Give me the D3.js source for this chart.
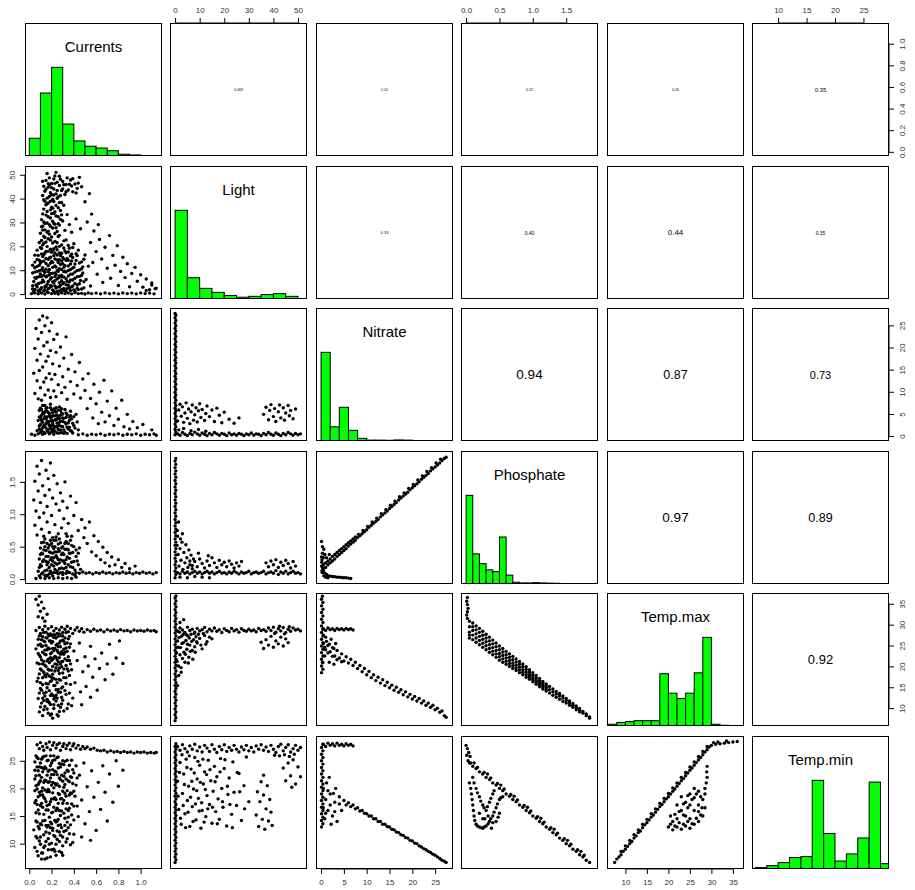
<!DOCTYPE html>
<html>
<head>
<meta charset="utf-8">
<script src="https://cdn.jsdelivr.net/npm/d3@7"></script>
<style>
  body { margin: 0; background: #fff; }
  svg { display: block; }
</style>
</head>
<body>
<svg id="chart" width="915" height="890"></svg>
<script>
// ---- Variables and their observed ranges ----
const variables = ["Currents", "Light", "Nitrate", "Phosphate", "Temp.max", "Temp.min"];
const dataRanges = [[0.007, 1.146], [0, 51.6], [0, 27.8], [0, 1.9], [6.9, 36.4], [6.3, 28.6]];
const tickValues = [
  [0, 0.2, 0.4, 0.6, 0.8, 1.0],
  [0, 10, 20, 30, 40, 50],
  [0, 5, 10, 15, 20, 25],
  [0, 0.5, 1.0, 1.5],
  [10, 15, 20, 25, 30, 35],
  [10, 15, 20, 25]
];
const tickFormats = [".1f", "d", "d", ".1f", "d", "d"];

// ---- Histograms (bar heights relative to the tallest bar) ----
const histStart = [0, 0, 0, 0, 6, 6];
const histWidth = [0.1, 5, 2, 0.1, 2, 2];
const currentsHist = [0.20, 0.71, 1.00, 0.36, 0.17, 0.11, 0.09, 0.06, 0.02, 0.012, 0.006, 0.003];
const lightHist = [1.00, 0.24, 0.12, 0.075, 0.04, 0.02, 0.03, 0.05, 0.06, 0.03, 0.005];
const nitrateHist = [1.00, 0.16, 0.38, 0.12, 0.03, 0.01, 0.01, 0.008, 0.012, 0.01, 0.005, 0.003, 0.002, 0.002];
const phosphateHist = [1.00, 0.34, 0.23, 0.16, 0.14, 0.53, 0.10, 0.02, 0.012, 0.012, 0.015, 0.012, 0.01, 0.008, 0.006, 0.005, 0.004, 0.003, 0.002];
const tempMaxHist = [0.02, 0.04, 0.05, 0.06, 0.06, 0.06, 0.59, 0.37, 0.31, 0.37, 0.60, 1.00, 0.02, 0.008, 0.004, 0.002];
const tempMinHist = [0.016, 0.038, 0.072, 0.13, 0.14, 1.00, 0.40, 0.09, 0.17, 0.35, 0.98, 0.06];
const histograms = [currentsHist, lightHist, nitrateHist, phosphateHist, tempMaxHist, tempMinHist];

// ---- Correlations shown above the diagonal: [row, col, text] ----
const correlations = [
  [0, 1, "0.068"], [0, 2, "0.20"], [0, 3, "0.22"], [0, 4, "0.26"], [0, 5, "0.35"],
  [1, 2, "0.33"], [1, 3, "0.40"], [1, 4, "0.44"], [1, 5, "0.35"],
  [2, 3, "0.94"], [2, 4, "0.87"], [2, 5, "0.73"],
  [3, 4, "0.97"], [3, 5, "0.89"],
  [4, 5, "0.92"]
];
const corrFontPx = [3.5, 3.5, 3.5, 3.5, 6, 4, 5, 8, 5, 13.5, 12.5, 11, 13.5, 12.5, 13];

// ---- Scatter observations [x, y] for each lower panel ----
const currentsLight = [
[0.02,0.2],[0.05,0.5],[0.08,0.1],[0.11,0.4],[0.14,0],[0.17,0.6],[0.2,0.2],[0.23,0.3],[0.26,0],[0.29,0.5],[0.32,0.2],[0.35,0.4],[0.38,0.1],[0.41,0.6],[0.44,0.2],[0.47,0.3],[0.5,0],[0.53,0.5],[0.56,0.2],[0.6,0.4],[0.64,0.1],[0.68,0.5],[0.72,0.2],[0.76,0.4],[0.8,0.1],[0.84,0.5],[0.88,0.2],[0.92,0.4],[0.96,0.1],[1.0,0.5],[1.04,0.2],[1.08,0.4],[1.12,0.1],[1.14,2.5],[1.1,3.8],[1.05,1.5],
[0.03,2.1],[0.04,5.3],[0.05,9.2],[0.05,13.4],[0.06,3.8],[0.07,7.1],[0.07,11.6],[0.08,1.4],[0.08,16.2],[0.09,4.6],[0.09,9.8],[0.1,13],[0.1,19.5],[0.11,2.7],[0.11,7.4],[0.12,11.1],[0.12,15.7],[0.13,5.2],[0.13,21.3],[0.14,1.8],[0.14,9.1],[0.15,12.8],[0.15,17.9],[0.16,4.1],[0.16,7.6],[0.17,14.6],[0.17,23.2],[0.18,2.5],[0.18,10.3],[0.19,6.2],[0.19,18.8],[0.2,13.7],[0.2,3.3],[0.21,8.7],[0.21,21.4],[0.22,16.1],[0.22,1.2],[0.23,11.8],[0.23,5.6],[0.24,19.7],[0.24,8.2],[0.25,2.9],[0.25,14.3],[0.26,24.1],[0.26,6.8],[0.27,10.6],[0.27,17.2],[0.28,3.7],[0.28,12.4],[0.29,7.9],[0.29,20.6],[0.3,1.6],[0.3,15.3],[0.31,9.4],[0.31,4.8],[0.32,18.1],[0.32,12],[0.33,6.4],[0.33,22.7],[0.34,2.2],[0.34,14.9],[0.35,9.9],[0.36,5.1],[0.36,19.2],[0.37,12.6],[0.38,3],[0.38,16.7],[0.39,8.4],[0.4,21.1],[0.4,11.2],[0.41,4.4],[0.42,14.1],[0.43,7.3],[0.44,18.4],[0.44,1.9],[0.45,10.1],[0.46,5.7],[0.47,13.5],[0.48,8.8],[0.49,2.6],[0.5,16.4],[0.51,6.1],[0.53,11.7],[0.55,3.4],
[0.04,1],[0.06,6.5],[0.07,14.5],[0.08,4.3],[0.09,12.1],[0.1,2],[0.1,8.4],[0.11,16.8],[0.12,5.9],[0.12,20.6],[0.13,9.7],[0.13,13.8],[0.14,3.1],[0.14,17.2],[0.15,7.2],[0.15,10.4],[0.16,1.1],[0.16,19.9],[0.17,5.3],[0.17,11.9],[0.18,8],[0.18,15.1],[0.19,3.6],[0.19,12.9],[0.2,6.9],[0.2,17.5],[0.21,1.7],[0.21,11.2],[0.22,4.6],[0.22,19],[0.23,8.9],[0.23,14.7],[0.24,2.5],[0.24,11.3],[0.25,6.3],[0.25,18.6],[0.26,9.5],[0.26,13.2],[0.27,1.3],[0.27,4.8],[0.28,7.1],[0.28,16.1],[0.29,10.3],[0.3,4.3],[0.3,12.7],[0.31,7.1],[0.31,19.3],[0.32,1.4],[0.32,9.6],[0.33,14.2],[0.34,5.4],[0.35,11.8],[0.35,17.6],[0.36,2.6],[0.37,8.3],[0.38,13.9],[0.39,5.9],[0.4,1.7],[0.41,9.2],[0.42,16.9],[0.43,3.8],[0.45,7.4],[0.47,2.1],[0.48,11.4],
[0.03,3.5],[0.03,8.8],[0.03,12.1],[0.05,1.9],[0.05,6.9],[0.05,11],[0.05,16.3],[0.07,3],[0.07,9.5],[0.07,18.4],[0.09,1.2],[0.09,7.3],[0.09,14.2],[0.09,21.6],[0.11,4.9],[0.11,10.1],[0.11,13.6],[0.11,19.1],[0.13,1.4],[0.13,7.9],[0.13,16.5],[0.13,24.2],[0.15,3.3],[0.15,14.9],[0.15,21.8],[0.17,9.4],[0.17,17.9],[0.17,2.3],[0.19,8.6],[0.19,15.4],[0.19,22.6],[0.21,5.1],[0.21,13.3],[0.21,18.4],[0.23,3.4],[0.23,7.3],[0.23,17.2],[0.23,22.1],[0.25,1.1],[0.25,9.8],[0.25,16.4],[0.25,21.5],[0.27,3.1],[0.27,7.6],[0.27,14.4],[0.27,20],[0.29,1.9],[0.29,5.6],[0.29,13.9],[0.29,17.1],[0.31,2.4],[0.31,11.2],[0.31,14.7],[0.31,22.3],[0.33,1.1],[0.33,3.9],[0.33,9.2],[0.33,17.3],[0.35,3.7],[0.35,7.6],[0.35,14.2],[0.35,20.4],[0.37,1.5],[0.37,5.9],[0.37,10.3],[0.37,16],[0.39,3.4],[0.39,10.9],[0.39,15.3],[0.39,19.5],[0.41,1.2],[0.41,6.6],[0.41,12.6],[0.43,2.4],[0.43,9.9],[0.43,16.1],[0.45,4.3],[0.45,13],[0.47,7.9],[0.47,10.6],[0.49,5.2],[0.49,14.6],
[0.1,25.5],[0.11,31.2],[0.12,28.4],[0.13,35.6],[0.14,26.9],[0.15,33.1],[0.16,29.8],[0.17,38.2],[0.18,25.1],[0.19,31.9],[0.2,36.4],[0.21,27.7],[0.22,33.8],[0.23,29.3],[0.24,37.1],[0.25,26.2],[0.26,32.4],[0.27,28.9],[0.28,35],[0.3,30.6],[0.32,26.7],[0.34,33.3],[0.36,29.1],[0.38,25.9],[0.42,31.5],[0.46,27.4],
[0.11,22.5],[0.12,26.8],[0.13,30.2],[0.14,23.7],[0.15,37.4],[0.16,34.6],[0.17,26.3],[0.18,29.1],[0.19,35.3],[0.2,23.9],[0.21,30.5],[0.22,38.8],[0.23,25.4],[0.24,32.7],[0.25,40.1],[0.26,36.2],[0.27,24.6],[0.28,31.3],[0.29,38.4],[0.2,41.6],[0.22,48.2],[0.18,45.7],[0.14,38.9],[0.12,47.3],[0.3,44.1],[0.34,48.7],[0.38,45.3],[0.42,42.4],
[0.11,28.2],[0.12,33.6],[0.13,39.5],[0.14,29.6],[0.15,43.9],[0.16,25.9],[0.16,37.8],[0.17,32.4],[0.17,46.2],[0.18,40.9],[0.19,28.3],[0.19,38.9],[0.2,33.7],[0.2,44.6],[0.21,36],[0.22,29.6],[0.22,41.5],[0.23,34.5],[0.23,46.4],[0.24,27.8],[0.25,43.4],[0.26,29.5],[0.27,38.3],[0.27,49.4],[0.28,41.3],[0.29,33.2],[0.31,45.8],[0.31,37.2],[0.33,42.9],[0.36,46],[0.39,48.3],[0.44,46.5],
[0.12,41.3],[0.13,45.2],[0.14,43.1],[0.15,47.6],[0.16,40.2],[0.17,44.8],[0.18,48.7],[0.19,42.5],[0.2,46.3],[0.21,39.6],[0.22,44],[0.23,49.5],[0.24,42],[0.25,46.9],[0.26,40.8],[0.27,45.5],[0.28,48.1],[0.29,43.4],[0.3,47.2],[0.32,41.7],[0.33,45.9],[0.35,43.6],[0.37,47.8],[0.39,42.9],[0.41,46.1],[0.43,44.3],[0.45,48.9],[0.47,45],[0.16,50.5],[0.24,51],
[0.55,21.6],[0.57,13.2],[0.58,26.4],[0.6,17.8],[0.61,8.3],[0.63,22.9],[0.65,14.7],[0.66,4.9],[0.68,19.6],[0.7,10.8],[0.72,24.5],[0.73,6.6],[0.75,16.2],[0.77,12.1],[0.79,20.3],[0.8,3.6],[0.82,9.5],[0.84,15.4],[0.86,6.9],[0.88,12.7],[0.9,3.1],[0.92,8.6],[0.95,11.2],[0.97,5.4],[1.0,8.1],[1.02,2.9],[1.05,6.3],[1.08,1.8],[1.1,4.7],[1.13,2.2],[0.52,30.2],[0.56,33.5],[0.62,29.1],[0.5,38.7],[0.54,42.1]
];

const currentsNitrate = [
[0.07,1.2],[0.08,3.5],[0.09,5.8],[0.1,0.8],[0.1,2.6],[0.11,4.7],[0.12,6.9],[0.12,1.9],[0.13,3.9],[0.14,5.5],[0.14,0.6],[0.15,2.8],[0.16,4.3],[0.16,6.4],[0.17,1.5],[0.18,3.3],[0.18,5.1],[0.19,7.2],[0.2,0.9],[0.2,2.4],[0.21,4.6],[0.22,6.1],[0.22,1.7],[0.23,3.7],[0.24,5.4],[0.25,0.7],[0.25,2.9],[0.26,4.2],[0.27,6.6],[0.28,1.4],[0.28,3.4],[0.29,5.2],[0.3,2.1],[0.31,4],[0.32,0.9],[0.32,6],[0.33,2.7],[0.34,4.8],[0.35,1.6],[0.36,3.5],[0.37,5.6],[0.38,1.1],[0.39,2.9],[0.4,4.4],[0.41,1.8],[0.43,3.2],
[0.08,0.5],[0.09,2.3],[0.1,4.1],[0.11,1.3],[0.11,6],[0.12,3.1],[0.13,0.9],[0.13,5.1],[0.14,2.2],[0.15,4],[0.15,6.2],[0.16,1.2],[0.17,2.9],[0.17,5.3],[0.18,0.5],[0.19,1.9],[0.19,4.2],[0.2,3.5],[0.2,5.9],[0.21,1.1],[0.21,2.8],[0.22,0.4],[0.23,5.7],[0.24,2.1],[0.24,3.6],[0.25,4.7],[0.26,1.5],[0.27,2.4],[0.27,4],[0.28,5.8],[0.29,0.8],[0.3,3.3],[0.3,5],[0.31,1.4],[0.33,4.2],[0.34,0.6],[0.35,3],[0.36,2],[0.37,4.6],[0.39,0.7],[0.4,2.4],[0.42,4.9],[0.44,1.4],
[0.09,1.6],[0.09,4.3],[0.1,6.3],[0.11,3.5],[0.12,0.4],[0.12,5.3],[0.13,2.4],[0.14,4.4],[0.14,6.9],[0.15,1.8],[0.16,3.4],[0.16,5.6],[0.17,0.9],[0.18,2.4],[0.18,4.6],[0.19,6.4],[0.2,1.5],[0.2,4.3],[0.21,3.3],[0.21,5.3],[0.22,2.3],[0.23,1.1],[0.23,4.6],[0.24,6.4],[0.25,2.1],[0.25,3.9],[0.26,5.9],[0.27,0.7],[0.27,3.1],[0.28,4.7],[0.29,2.2],[0.29,6.2],[0.3,4.1],[0.31,0.6],[0.32,3.1],[0.33,5.2],[0.34,2],[0.36,4.3],[0.37,1.2],[0.38,3.9],
[0.02,0.4],[0.05,0.2],[0.44,0.3],[0.48,0.5],[0.52,0.2],[0.56,0.4],[0.6,0.3],[0.64,0.5],[0.68,0.2],[0.72,0.4],[0.76,0.3],[0.8,0.5],[0.84,0.2],[0.88,0.4],[0.92,0.3],[0.96,0.5],[1.0,0.2],[1.04,0.4],[1.08,0.3],[1.12,0.5],[1.14,0.2],
[0.04,14.2],[0.05,9.6],[0.05,19.8],[0.06,24.3],[0.07,12.5],[0.07,17.1],[0.08,8.4],[0.08,21.9],[0.09,26.2],[0.09,14.8],[0.1,10.9],[0.1,18.5],[0.11,23.4],[0.11,8.1],[0.12,15.6],[0.12,27.1],[0.13,12.2],[0.13,20.4],[0.14,9.3],[0.14,24.9],[0.15,16.9],[0.15,13.1],[0.16,21.2],[0.16,26.7],[0.17,10.4],[0.17,18],[0.18,14.1],[0.18,23.7],[0.19,8.7],[0.19,19.3],[0.2,12.8],[0.2,25.6],[0.21,16.3],[0.22,10.2],[0.22,21.8],[0.23,13.9],[0.24,18.9],[0.24,8.9],[0.25,23],[0.26,11.6],[0.27,15.8],[0.28,20.1],[0.29,9.8],[0.3,13.4],[0.31,17.6],[0.32,11],[0.33,22.4],[0.34,8.3],[0.35,15.1],[0.37,12.3],[0.38,18.4],[0.4,9.5],[0.41,14.5],[0.43,11.4],[0.45,16.6],[0.46,8.6],[0.48,12.9],
[0.5,10.3],[0.52,6.2],[0.53,14.1],[0.55,8.5],[0.57,4.1],[0.58,11.7],[0.6,7.3],[0.62,2.8],[0.63,9.9],[0.65,5.4],[0.67,12.6],[0.68,3.2],[0.7,7.9],[0.72,4.6],[0.74,10.2],[0.76,2.4],[0.78,6.3],[0.8,3.8],[0.83,8.1],[0.85,2.1],[0.88,4.9],[0.9,1.6],[0.93,3.3],[0.97,1.9],[1.02,2.6],[1.1,1.4]
];

const currentsPhosphate = [
[0.3,0.1],[0.33,0.09],[0.36,0.1],[0.39,0.08],[0.42,0.1],[0.45,0.09],[0.48,0.11],[0.51,0.09],[0.54,0.1],[0.57,0.08],[0.6,0.1],[0.63,0.09],[0.66,0.11],[0.69,0.09],[0.72,0.1],[0.75,0.08],[0.78,0.1],[0.81,0.09],[0.84,0.11],[0.87,0.09],[0.9,0.1],[0.93,0.08],[0.96,0.1],[0.99,0.09],[1.02,0.11],[1.05,0.09],[1.08,0.1],[1.11,0.08],[1.14,0.1],
[0.06,0.01],[0.1,0.02],[0.14,0.01],[0.18,0.02],[0.22,0.01],[0.26,0.02],[0.3,0.01],[0.34,0.02],[0.38,0.01],[0.42,0.03],
[0.08,0.12],[0.09,0.31],[0.1,0.48],[0.11,0.2],[0.12,0.39],[0.13,0.57],[0.14,0.13],[0.15,0.27],[0.15,0.44],[0.16,0.06],[0.17,0.35],[0.18,0.52],[0.18,0.18],[0.19,0.41],[0.2,0.09],[0.21,0.28],[0.22,0.47],[0.22,0.6],[0.23,0.15],[0.24,0.36],[0.25,0.23],[0.26,0.54],[0.26,0.08],[0.27,0.43],[0.28,0.3],[0.29,0.17],[0.3,0.5],[0.31,0.38],[0.32,0.24],[0.33,0.58],[0.34,0.12],[0.35,0.45],[0.36,0.32],[0.37,0.19],[0.38,0.52],[0.39,0.41],[0.4,0.27],[0.41,0.14],[0.42,0.35],[0.44,0.22],[0.45,0.48],
[0.09,0.05],[0.1,0.22],[0.11,0.4],[0.12,0.1],[0.13,0.3],[0.14,0.5],[0.15,0.04],[0.16,0.22],[0.17,0.48],[0.18,0.08],[0.19,0.3],[0.2,0.55],[0.21,0.05],[0.21,0.4],[0.22,0.2],[0.23,0.5],[0.24,0.1],[0.25,0.42],[0.26,0.3],[0.27,0.16],[0.28,0.56],[0.29,0.38],[0.3,0.07],[0.31,0.28],[0.32,0.46],[0.33,0.18],[0.34,0.34],[0.35,0.55],[0.36,0.1],[0.37,0.4],[0.38,0.26],[0.4,0.5],[0.41,0.06],[0.43,0.28],[0.44,0.4],[0.46,0.15],[0.14,0.62],[0.24,0.65],[0.34,0.66],
[0.09,0.18],[0.1,0.38],[0.11,0.56],[0.11,0.08],[0.12,0.27],[0.13,0.45],[0.14,0.06],[0.15,0.35],[0.16,0.55],[0.16,0.14],[0.17,0.26],[0.18,0.42],[0.19,0.12],[0.19,0.6],[0.2,0.33],[0.2,0.22],[0.21,0.5],[0.22,0.1],[0.22,0.33],[0.23,0.25],[0.23,0.42],[0.24,0.6],[0.25,0.12],[0.25,0.33],[0.26,0.47],[0.27,0.25],[0.27,0.62],[0.28,0.1],[0.29,0.48],[0.3,0.28],[0.3,0.4],[0.31,0.16],[0.32,0.55],[0.33,0.3],[0.34,0.46],[0.35,0.22],[0.36,0.4],[0.37,0.6],[0.39,0.18],[0.42,0.45],
[0.04,1.22],[0.05,0.83],[0.05,1.51],[0.06,1.05],[0.07,1.74],[0.07,0.68],[0.08,1.36],[0.09,0.95],[0.09,1.62],[0.1,1.18],[0.11,0.77],[0.11,1.83],[0.12,1.44],[0.13,1.02],[0.13,0.66],[0.14,1.29],[0.15,1.68],[0.16,0.88],[0.16,1.12],[0.17,1.55],[0.18,0.72],[0.18,1.38],[0.19,1.79],[0.2,0.98],[0.21,1.25],[0.21,0.64],[0.22,1.6],[0.23,0.84],[0.24,1.16],[0.25,1.47],[0.26,0.7],[0.27,1.06],[0.28,1.33],[0.29,0.79],[0.3,1.2],[0.31,0.93],[0.32,1.5],[0.33,0.7],[0.34,1.1],[0.35,0.86],[0.37,1.28],[0.38,0.66],[0.4,0.98],[0.42,1.18],[0.44,0.75],[0.47,0.92],[0.49,0.64],
[0.5,0.79],[0.52,0.55],[0.54,0.88],[0.56,0.42],[0.58,0.67],[0.6,0.36],[0.62,0.58],[0.64,0.3],[0.66,0.49],[0.68,0.25],[0.7,0.41],[0.72,0.2],[0.74,0.34],[0.77,0.22],[0.8,0.3],[0.83,0.18],[0.86,0.24],[0.9,0.16],[0.95,0.2]
];

const currentsTempMax = [
[0.06,28.6],[0.09,29.3],[0.1,27.9],[0.12,28.8],[0.14,29.6],[0.15,28.2],[0.17,29],[0.19,27.8],[0.2,29.5],[0.22,28.5],[0.24,29.1],[0.25,27.9],[0.27,28.7],[0.29,29.4],[0.3,28.1],[0.32,28.9],[0.34,29.6],[0.35,28.3],[0.37,29.1],[0.39,27.9],[0.41,28.7],[0.43,29.3],[0.45,28.4],[0.47,29],[0.49,28.2],[0.52,28.8],[0.55,28.4],[0.58,28.9],[0.61,28.5],[0.64,28.7],[0.67,28.3],[0.7,28.8],[0.73,28.5],[0.76,28.7],[0.79,28.4],[0.82,28.8],[0.85,28.5],[0.88,28.6],[0.91,28.3],[0.94,28.7],[0.97,28.5],[1.0,28.6],[1.03,28.4],[1.06,28.7],[1.09,28.5],[1.12,28.6],[1.14,28.3],
[0.06,36.1],[0.08,34.7],[0.09,36.8],[0.1,33.2],[0.11,35.4],[0.12,31.6],[0.13,33.9],[0.14,30.8],[0.08,31.9],[0.16,32.5],
[0.06,24.2],[0.07,20.8],[0.08,26.5],[0.09,22.7],[0.1,19.4],[0.1,25.3],[0.11,21.6],[0.12,27.1],[0.12,23.4],[0.13,18.6],[0.14,25.9],[0.14,20.3],[0.15,22.8],[0.16,26.8],[0.16,18.2],[0.17,24.4],[0.18,20.9],[0.18,27.4],[0.19,23],[0.2,19.1],[0.2,25.6],[0.21,21.7],[0.22,26.9],[0.22,23.8],[0.23,18.9],[0.24,22.2],[0.24,25.1],[0.25,20.4],[0.26,27.2],[0.26,23.3],[0.27,19.6],[0.28,24.7],[0.29,21.1],[0.3,26.3],[0.3,18.4],[0.31,22.9],[0.32,25.4],[0.33,20.2],[0.34,23.6],[0.35,26.6],[0.36,21.4],
[0.08,23.1],[0.09,18.2],[0.1,27.5],[0.11,24.8],[0.11,14.3],[0.12,20.6],[0.13,26.1],[0.13,11.8],[0.14,22.9],[0.15,17.5],[0.15,25],[0.16,21.3],[0.16,14.9],[0.17,27.7],[0.17,19.3],[0.18,24.2],[0.18,11.3],[0.19,26.1],[0.19,16.4],[0.2,21.4],[0.2,13.4],[0.21,24.3],[0.21,18.1],[0.22,27.6],[0.22,15.4],[0.23,22.4],[0.23,12.6],[0.24,26.8],[0.24,19.6],[0.25,23.8],[0.25,16.1],[0.26,21.1],[0.26,10.7],[0.27,25.6],[0.27,18.3],[0.28,22.9],[0.28,13.8],[0.29,27.3],[0.29,19.9],[0.3,23.1],[0.3,11.9],[0.31,26],[0.31,17.3],[0.32,21.8],[0.33,24.4],[0.33,15.9],[0.34,19.4],[0.35,22.3],[0.36,17.8],[0.37,25.4],[0.12,15.6],[0.14,12.9],[0.16,9.8],[0.18,17.7],[0.2,8.6],[0.22,12.2],[0.24,14.4],[0.26,8.1],
[0.08,25.1],[0.08,17.2],[0.09,20.6],[0.09,27.3],[0.1,22.3],[0.1,16.1],[0.11,26.4],[0.11,19.1],[0.12,24.9],[0.12,12.4],[0.13,21.2],[0.13,28.1],[0.14,17.9],[0.14,23.9],[0.15,20],[0.15,26.9],[0.16,24],[0.16,11.6],[0.17,21.7],[0.17,15.8],[0.18,26.1],[0.18,19.1],[0.19,22.1],[0.19,13],[0.2,27.4],[0.2,23.3],[0.2,17.4],[0.21,20],[0.21,25.9],[0.22,22.1],[0.22,17.1],[0.23,27.5],[0.23,24.3],[0.23,20.6],[0.24,16.9],[0.24,13.1],[0.25,25.3],[0.25,21.6],[0.26,19],[0.26,24.7],[0.26,14.5],[0.27,22.1],[0.27,27.8],[0.28,20.6],[0.28,26.1],[0.28,16.7],[0.29,23.5],[0.29,14.8],[0.3,21.2],[0.3,27.3],[0.31,24.1],[0.31,19.4],[0.32,26.8],[0.32,23.4],[0.33,17.3],[0.33,28.1],[0.34,25.6],[0.34,21.4],[0.35,18.9],[0.36,24.6],[0.36,27.2],[0.37,20.6],[0.09,13.6],[0.1,10.3],[0.13,9.6],[0.15,13.8],[0.17,11.6],[0.19,8.3],[0.22,10.8],[0.25,12.4],[0.27,9.2],[0.29,11],[0.32,14.2],[0.34,9.9],[0.36,13.6],[0.38,10.6],
[0.07,16.4],[0.08,12.3],[0.09,9.1],[0.1,14.7],[0.11,11.2],[0.12,17.3],[0.12,8.2],[0.13,13.6],[0.14,10.4],[0.15,15.9],[0.16,12.1],[0.17,8.8],[0.18,14.2],[0.19,10.9],[0.2,16.6],[0.21,7.6],[0.21,13.1],[0.22,9.9],[0.23,15.4],[0.24,11.7],[0.25,8.4],[0.26,13.8],[0.27,16.9],[0.28,10.2],[0.29,12.6],[0.3,15.1],[0.31,9.3],[0.33,13.3],[0.35,11],[0.37,15.7],[0.39,12.4],
[0.38,19.2],[0.4,23.7],[0.41,16.1],[0.43,21.4],[0.45,25.6],[0.46,13.9],[0.48,18.7],[0.5,22.3],[0.51,15.2],[0.53,20.1],[0.55,24.8],[0.57,17.4],[0.59,21.8],[0.61,14.3],[0.63,19.5],[0.65,23.2],[0.68,16.8],[0.7,20.6],[0.72,25.3],[0.75,18.1],[0.78,22],[0.81,26.1],[0.84,20.7],[0.47,10.8],[0.55,12.6]
];

const currentsTempMin = [
[0.07,27.9],[0.09,27.2],[0.1,28.3],[0.12,27.6],[0.13,26.9],[0.15,28.1],[0.16,27.4],[0.18,28.4],[0.19,27],[0.21,27.8],[0.22,28.3],[0.24,27.3],[0.25,27.9],[0.27,28.2],[0.28,26.9],[0.3,27.6],[0.31,28.1],[0.33,27.2],[0.34,27.8],[0.36,28.2],[0.37,27],[0.39,27.7],[0.4,28.1],[0.42,27.3],[0.44,27.8],[0.46,27.1],[0.48,27.6],[0.5,27.2],[0.52,27.5],[0.55,27.1],[0.58,27.3],[0.61,26.9],[0.64,26.8],[0.67,26.9],[0.7,26.6],[0.73,26.8],[0.76,26.6],[0.79,26.7],[0.82,26.5],[0.85,26.7],[0.88,26.5],[0.91,26.6],[0.94,26.4],[0.97,26.6],[1.0,26.5],[1.03,26.6],[1.06,26.4],[1.09,26.5],[1.12,26.4],[1.14,26.5],
[0.05,24.8],[0.05,19.6],[0.06,22.3],[0.07,17.1],[0.07,25.6],[0.08,20.7],[0.09,23.9],[0.09,15.4],[0.1,18.8],[0.11,22],[0.11,25.3],[0.12,16.6],[0.12,20.1],[0.13,23.5],[0.14,14.2],[0.14,18.1],[0.15,21.4],[0.15,25.9],[0.16,16.9],[0.17,19.8],[0.17,23.1],[0.18,14.8],[0.19,21.9],[0.19,17.6],[0.2,24.6],[0.21,19.2],[0.21,15.7],[0.22,22.5],[0.23,18.3],[0.23,25.2],[0.24,13.9],[0.25,20.8],[0.25,16.4],[0.26,23.7],[0.27,18.9],[0.28,15.1],[0.28,21.6],[0.29,24.4],[0.3,17.3],[0.31,20.2],[0.32,14.6],[0.32,22.8],[0.33,18.6],[0.34,25.1],[0.35,16],[0.36,21.2],[0.37,13.4],[0.38,19.1],[0.39,23.4],[0.4,16.8],[0.42,20.6],[0.44,14.9],
[0.05,21.7],[0.06,17.8],[0.06,25.9],[0.07,19.9],[0.08,23.2],[0.08,16.1],[0.09,21.1],[0.1,24.6],[0.1,16.9],[0.11,19.5],[0.12,23],[0.12,14.1],[0.13,18.4],[0.13,25.8],[0.14,21.5],[0.15,16.1],[0.15,23.6],[0.16,19.4],[0.17,13.3],[0.17,25.1],[0.18,21.2],[0.18,17.1],[0.19,24.1],[0.2,15.6],[0.2,20.6],[0.21,23.4],[0.21,12.4],[0.22,18.1],[0.22,25.9],[0.23,20.9],[0.24,16],[0.24,23],[0.25,14.1],[0.26,19.1],[0.26,25.7],[0.27,21.9],[0.27,16],[0.28,23.9],[0.29,18.2],[0.29,12.9],[0.3,21.3],[0.31,24.3],[0.31,15.5],[0.32,19.1],[0.33,21.7],[0.34,13.9],[0.34,17.3],[0.35,23.1],[0.36,18.8],[0.38,22],[0.38,15.2],[0.4,19.5],[0.09,10.5],[0.11,8.3],[0.14,9.6],[0.18,9.9],[0.2,13.6],[0.23,8.6],[0.27,12.1],[0.3,7.9],
[0.05,23.3],[0.05,17.4],[0.06,20.5],[0.06,15.6],[0.07,23.9],[0.07,13.9],[0.08,18.5],[0.08,25.4],[0.09,22.4],[0.09,19.3],[0.1,13.6],[0.1,21.4],[0.11,17.3],[0.11,23.8],[0.12,18.8],[0.12,25.6],[0.13,21.1],[0.13,15.3],[0.14,23.9],[0.14,19.7],[0.15,17.6],[0.15,13.3],[0.16,22.4],[0.16,25],[0.17,21.1],[0.17,16.1],[0.18,19.4],[0.18,23.3],[0.19,13.9],[0.19,25.9],[0.2,22.5],[0.2,18.1],[0.21,21.1],[0.21,25],[0.22,16.6],[0.22,20.1],[0.23,23.1],[0.23,14.2],[0.24,20.6],[0.24,18],[0.25,25.6],[0.25,22.5],[0.26,17.3],[0.26,14.4],[0.27,20.4],[0.27,24.5],[0.28,18.1],[0.28,13.4],[0.29,22.4],[0.29,15.9],[0.3,19.5],[0.3,25],[0.31,22.2],[0.31,17.8],[0.32,24.9],[0.32,20.7],[0.33,16.3],[0.33,12.4],[0.34,23.3],[0.34,19.6],[0.35,21.4],[0.35,14.8],[0.36,24.2],[0.36,16.4],[0.37,22.1],[0.37,19.2],[0.38,17.2],[0.38,25.1],[0.39,20.9],[0.4,14.3],[0.4,22.8],[0.41,18.6],[0.42,24.1],[0.43,16.8],[0.43,21.9],[0.06,11.3],[0.07,8.6],[0.08,13.1],[0.1,11.2],[0.11,7.2],[0.13,9.3],[0.15,12.1],[0.16,7.4],[0.17,10.9],[0.19,12.9],[0.2,8.9],[0.22,11.5],[0.24,9.9],[0.25,12.3],[0.27,10.4],[0.29,8.4],[0.3,11.2],[0.32,13.3],[0.34,10.9],[0.36,11.8],[0.39,10.2],
[0.04,12.5],[0.05,9.3],[0.06,14.1],[0.07,11],[0.08,7.8],[0.09,12.7],[0.1,9.9],[0.11,13.4],[0.12,8.3],[0.13,11.6],[0.14,7.2],[0.15,10.4],[0.16,13],[0.17,8.9],[0.18,11.9],[0.19,7.6],[0.2,10.1],[0.21,12.8],[0.22,9],[0.23,11.3],[0.24,7.9],[0.25,10.8],[0.26,13.3],[0.27,8.6],[0.28,11.5],[0.3,9.6],[0.31,12.2],[0.33,10.3],[0.35,12.9],[0.37,9.8],[0.4,11.7],
[0.45,22.4],[0.47,17.9],[0.49,24.6],[0.5,13.6],[0.52,20.3],[0.54,15.8],[0.56,23.2],[0.58,18.4],[0.6,12.4],[0.62,21.1],[0.64,16.2],[0.66,24.1],[0.68,19.3],[0.7,14.1],[0.72,22.6],[0.75,17.5],[0.78,25],[0.8,20.4],[0.84,23.3],[0.47,11.2],[0.55,10.6]
];

const lightNitrate = [
[0,0.3],[0.3,0.9],[0,1.5],[0.3,2.1],[0,2.7],[0.3,3.3],[0,3.9],[0.3,4.5],[0,5.1],[0.3,5.7],[0,6.3],[0.3,6.9],[0,7.5],[0.3,8.1],[0,8.7],[0.3,9.3],[0,9.9],[0.3,10.5],[0,11.1],[0.3,11.7],[0,12.3],[0.3,12.9],[0,13.5],[0.3,14.1],[0,14.7],[0.3,15.3],[0,15.9],[0.3,16.5],[0,17.1],[0.3,17.7],[0,18.3],[0.3,18.9],[0,19.5],[0.3,20.1],[0,20.7],[0.3,21.3],[0,21.9],[0.3,22.5],[0,23.1],[0.3,23.7],[0,24.3],[0.3,24.9],[0,25.5],[0.3,26.1],[0,26.7],[0.3,27.3],[0,27.7],
[1,0.5],[2,0.2],[3,0.8],[4,0.4],[5,0.1],[6,0.6],[7,0.3],[8,0.9],[9,0.5],[10,0.2],[11,0.7],[12,0.4],[13,0.1],[14,0.6],[15,0.3],[16,0.8],[17,0.5],[18,0.2],[19,0.6],[20,0.4],[21,0.1],[22,0.7],[23,0.3],[24,0.5],[25,0.2],[26,0.6],[27,0.4],[28,0.1],[29,0.5],[30,0.3],[31,0.7],[32,0.2],[33,0.5],[34,0.4],[35,0.1],[36,0.6],[37,0.3],[38,0.8],[39,0.4],[40,0.2],[41,0.7],[42,0.4],[43,0.1],[44,0.6],[45,0.3],[46,0.8],[47,0.5],[48,0.2],[49,0.6],[50,0.3],[51,0.5],[1.5,1.4],[3.5,1.7],[6.5,1.2],[9.5,1.5],[12.5,1.1],
[1,3.4],[1.5,5.9],[2,7.2],[2.5,4.5],[3,6.6],[3.5,3.1],[4,5.2],[4.5,7.5],[5,4],[5.5,6.1],[6,2.8],[6.5,5.5],[7,7],[7.5,3.6],[8,4.8],[8.5,6.4],[9,3.2],[9.5,5.7],[10,7.3],[10.5,4.2],[11,6],[12,3.5],[12.5,5.1],[13,6.8],[14,4.4],[15,5.9],[16,3.3],[17,6.3],[18,4.7],[19,3],[20,5.4],[22,3.8],[24,2.9],[26,4.1],
[36,4.9],[37,6.5],[38,3.7],[38.5,5.8],[39,7.1],[40,4.4],[40.5,6.2],[41,3.3],[42,5.5],[42.5,7],[43,4.1],[44,6.4],[44.5,3.6],[45,5.2],[46,6.9],[46.5,4.6],[47,5.8],[48,3.9],[49,6.1]
];

const lightPhosphate = [
[0,0.02],[0.3,0.07],[0,0.12],[0.3,0.17],[0,0.22],[0.3,0.27],[0,0.32],[0.3,0.37],[0,0.42],[0.3,0.47],[0,0.52],[0.3,0.57],[0,0.62],[0.3,0.67],[0,0.72],[0.3,0.77],[0,0.82],[0.3,0.87],[0,0.92],[0.3,0.97],[0,1.02],[0.3,1.07],[0,1.12],[0.3,1.17],[0,1.22],[0.3,1.27],[0,1.32],[0.3,1.37],[0,1.42],[0.3,1.47],[0,1.52],[0.3,1.57],[0,1.62],[0.3,1.67],[0,1.72],[0.3,1.77],[0,1.82],[0.3,1.86],
[0.8,0.52],[1.2,0.38],[1.6,0.2],[2,0.47],[2.4,0.29],[2.8,0.57],[3.2,0.15],[3.6,0.41],[4,0.25],[4.4,0.53],[4.8,0.33],[5.2,0.18],[5.6,0.45],[6,0.28],[6.5,0.37],[7,0.21],[7.5,0.31],[1,0.66],[2.2,0.62],[0.9,0.75],[1.4,0.88],[3,0.7],
[1,0.1],[2,0.08],[3,0.12],[4,0.09],[5,0.11],[6,0.08],[7,0.1],[8,0.12],[9,0.09],[10,0.11],[11,0.08],[12,0.1],[13,0.12],[14,0.09],[15,0.11],[16,0.08],[17,0.1],[18,0.12],[19,0.09],[20,0.1],[21,0.08],[22,0.11],[23,0.09],[24,0.12],[25,0.1],[26,0.08],[27,0.11],[28,0.09],[29,0.1],[30,0.12],[31,0.08],[32,0.1],[33,0.11],[34,0.09],[35,0.1],[36,0.12],[37,0.08],[38,0.1],[39,0.11],[40,0.09],[41,0.13],[42,0.07],[43,0.11],[44,0.09],[45,0.12],[46,0.08],[47,0.1],[48,0.12],[49,0.09],[50,0.1],[51,0.08],
[2,0.03],[5,0.02],[8,0.04],[11,0.03],[14,0.02],
[6,0.22],[7,0.16],[8,0.27],[9,0.19],[10,0.31],[11,0.24],[12,0.17],[13,0.28],[14,0.21],[15,0.33],[16,0.25],[17,0.18],[18,0.29],[19,0.22],[20,0.26],[21,0.19],[22,0.28],[23,0.23],[24,0.17],[25,0.25],[26,0.2],[27,0.27],[9.5,0.4],[13.5,0.36],
[37,0.25],[38,0.19],[39,0.28],[40,0.22],[41,0.3],[42,0.18],[43,0.26],[44,0.21],[45,0.29],[46,0.24],[47,0.17],[48,0.27],[49,0.2]
];

const lightTempMax = [
[0,7],[0.35,7.7],[0,8.4],[0.35,9.1],[0,9.8],[0.35,10.5],[0,11.2],[0.35,11.9],[0,12.6],[0.35,13.3],[0,14],[0.35,14.7],[0,15.4],[0.35,16.1],[0,16.8],[0.35,17.5],[0,18.2],[0.35,18.9],[0,19.6],[0.35,20.3],[0,21],[0.35,21.7],[0,22.4],[0.35,23.1],[0,23.8],[0.35,24.5],[0,25.2],[0.35,25.9],[0,26.6],[0.35,27.3],[0,28],[0.35,28.7],[0,29.4],[0.35,30.1],[0,30.8],[0.35,31.5],[0,32.2],[0.35,32.9],[0,33.6],[0.35,34.3],[0,35],[0.35,35.7],[0,36.4],[0.35,36.9],
[1,28.4],[2,29.2],[3,28.7],[4,28.1],[5,29.4],[6,28.6],[7,28.9],[8,28.2],[9,29.1],[10,28.5],[11,28.8],[12,29.3],[13,28.3],[14,28.9],[15,28.5],[16,29.2],[17,28.4],[18,28.8],[19,28.1],[20,29],[21,28.6],[22,28.3],[23,29.1],[24,28.5],[25,28.8],[26,28.2],[27,29],[28,28.6],[29,28.4],[30,28.9],[31,28.5],[32,28.7],[33,28.3],[34,29.1],[35,28.6],[36,28.8],[37,28.4],[38,29.2],[39,28.6],[40,29.4],[41,28.2],[42,29],[43,28.5],[44,29.3],[45,28.1],[46,28.9],[47,28.4],[48,29.2],[49,28.7],[50,28.9],[51,28.5],[40.5,27.9],[42.5,29.6],[44.5,27.8],[46.5,29.5],
[0.8,21.2],[1.2,24.6],[1.6,26.9],[2,22.8],[2.4,19.7],[2.8,25.5],[3.2,27.6],[3.6,23.4],[4,21],[4.4,26.2],[4.8,24.1],[5.2,27.3],[5.6,22.2],[6,25.1],[6.5,27.7],[7,23.8],[7.5,26.4],[8,24.7],[8.5,27.1],[9,25.6],[10,26.7],[11,24.2],[12,27.4],[13,25.9],[14,27],[2,30.5],[3.5,31.2],[1.5,17.8],[1,15.4],[2.5,18.6],
[0.6,23.3],[1,26.1],[1.4,20.1],[1.8,28.2],[2.2,24.5],[2.6,27.2],[3,21.9],[3.4,25.7],[3.8,28],[4.2,22.9],[4.6,27.6],[5,25.3],[5.4,20.8],[5.8,26.8],[6.2,23.6],[6.8,26],[7.2,21.7],[7.8,27.9],[8.2,23.4],[8.8,25.9],[9.5,27.7],[10.5,25.1],[11.5,27.9],[12.5,25.3],[15,26.6],
[35,25.8],[36,24.3],[37,26.4],[38,25.1],[39,27.2],[40,24.6],[41,26.1],[42,25.4],[43,27],[44,24.9],[45,26.6],[46,25.7]
];

const lightTempMin = [
[0,6.6],[0.35,7.1],[0,7.6],[0.35,8.1],[0,8.6],[0.35,9.1],[0,9.6],[0.35,10.1],[0,10.6],[0.35,11.1],[0,11.6],[0.35,12.1],[0,12.6],[0.35,13.1],[0,13.6],[0.35,14.1],[0,14.6],[0.35,15.1],[0,15.6],[0.35,16.1],[0,16.6],[0.35,17.1],[0,17.6],[0.35,18.1],[0,18.6],[0.35,19.1],[0,19.6],[0.35,20.1],[0,20.6],[0.35,21.1],[0,21.6],[0.35,22.1],[0,22.6],[0.35,23.1],[0,23.6],[0.35,24.1],[0,24.6],[0.35,25.1],[0,25.6],[0.35,26.1],[0,26.6],[0.35,27.1],[0,27.6],[0.35,28.1],
[1,27.6],[2,26.9],[3,27.9],[4,27.2],[5,26.6],[6,27.7],[7,27.1],[8,28],[9,26.8],[10,27.5],[11,26.6],[12,27.8],[13,27.3],[14,26.7],[15,27.9],[16,27.1],[17,26.5],[18,27.6],[19,27],[20,27.9],[21,26.7],[22,27.4],[23,26.9],[24,27.8],[25,27.1],[26,26.6],[27,27.5],[28,27],[29,27.8],[30,26.8],[31,27.4],[32,26.6],[33,27.7],[34,27.1],[35,27.9],[36,26.9],[37,27.5],[38,26.7],[39,27.8],[40,27.1],[41,26.5],[42,27.6],[43,28],[44,26.8],[45,27.4],[46,27.9],[47,26.6],[48,27.2],[49,27.8],[50,26.9],[51,27.4],[40.5,26],[42.5,25.9],[44.5,26.1],[46.5,25.8],[48.5,26.2],
[1,21.3],[1.5,16.2],[2,24.7],[2.5,13.5],[3,19.1],[3.5,22.6],[4,15.4],[4.5,25.3],[5,17.8],[5.5,20.4],[6,13.1],[6.5,23.5],[7,16.7],[7.5,19.9],[8,25.6],[8.5,14.3],[9,21.7],[9.5,18.2],[10,24.2],[10.5,12.8],[11,16],[11.5,20.8],[12,23],[12.5,14.9],[13,18.7],[13.5,25.1],[14,17.1],[14.5,21.4],[15,13.7],[15.5,19.5],[16,24],[16.5,15.8],[17,22.1],[17.5,18.1],[18,14.4],[18.5,25.4],[19,20],[19.5,16.6],[20,23.6],[21,13.2],[21.5,18.9],[22,21.9],[23,15.3],[23.5,24.8],[24,19.3],[25,16.9],[26,22.7],[27,14.2],[28,20.5],[29,25.7],[30,17.6],
[1.2,18.6],[1.8,22.9],[2.2,14.6],[2.8,26.1],[3.3,16.9],[3.8,20.7],[4.3,12.9],[4.8,23.8],[5.3,15.7],[5.8,25.9],[6.3,18.4],[6.8,21.3],[7.3,14],[7.8,22.8],[8.3,17.2],[8.8,19.6],[9.3,24.9],[9.8,15.9],[10.3,21.1],[10.8,17.4],[11.3,25.3],[11.8,13.9],[12.3,19.8],[12.8,22.5],[13.3,16.3],[14.2,23.4],[15.2,16.6],[16.3,21.2],[17.2,13.6],[18.3,23],[19.3,17.6],[20.3,25.2],[21.3,20.4],[22.3,17.1],[23.3,12.9],[25.3,22.9],[26.3,19.4],[28.3,16.3],
[33,15.2],[33.5,19.4],[34,13.1],[34.5,17.6],[35,21.2],[35.5,14.4],[36,18.8],[36.5,12.6],[37,16.3],[37.5,20.5],[38,14.1],[38.5,18],[39,15.7],[39.5,13.3],[36,22.4],
[44,23.7],[45,21.4],[46,24.6],[47,22.3],[48,25.2],[49,20.8],[50,23.9],[51,22.1],[47.5,20.2]
];

const nitratePhosphate = [
[0.2,0.13],[0.5,0.15],[1,0.18],[1.5,0.22],[2,0.25],[2.5,0.28],[3,0.31],[3.5,0.35],[4,0.38],[4.5,0.41],[5,0.44],[5.5,0.47],[6,0.51],[6.5,0.54],[7,0.57],[7.5,0.6],[8,0.64],[8.5,0.67],[9,0.7],[9.5,0.73],[10,0.76],[10.5,0.8],[11,0.83],[11.5,0.86],[12,0.89],[12.5,0.92],[13,0.96],[13.5,0.99],[14,1.02],[14.5,1.05],[15,1.09],[15.5,1.12],[16,1.15],[16.5,1.18],[17,1.22],[17.5,1.25],[18,1.28],[18.5,1.31],[19,1.34],[19.5,1.38],[20,1.41],[20.5,1.44],[21,1.47],[21.5,1.5],[22,1.54],[22.5,1.57],[23,1.6],[23.5,1.63],[24,1.67],[24.5,1.7],[25,1.73],[25.5,1.76],[26,1.79],[26.5,1.83],[27,1.86],[27.4,1.88],
[0.5,0.22],[1,0.25],[1.5,0.28],[2,0.31],[2.5,0.35],[3,0.38],[3.5,0.41],[4,0.44],[4.5,0.47],[5,0.5],[5.5,0.53],[6,0.56],[6.5,0.59],[7,0.62],[7.5,0.65],[8.2,0.69],[9.2,0.75],[10.2,0.81],[11.2,0.88],[12.2,0.94],[13.2,1.01],[14.2,1.07],[15.2,1.14],[16.2,1.2],[17.2,1.27],[18.2,1.33],[19.2,1.4],[20.2,1.46],[21.2,1.53],[22.2,1.59],[23.2,1.66],[24.2,1.72],[25.2,1.79],[26.2,1.85],
[0.1,0.2],[0.2,0.3],[0.3,0.4],[0.5,0.33],[0.8,0.38],[0.3,0.5],[1.2,0.33],[1.8,0.38],[0.6,0.46],[0.1,0.58],
[0.1,0.34],[0.15,0.26],[0.3,0.18],[0.5,0.12],[0.8,0.09],[1.2,0.07],[1.6,0.05],[2,0.045],[2.5,0.04],[3,0.035],[3.5,0.03],[4,0.03],[4.5,0.025],[5,0.02],[5.5,0.02],[6,0.015],[6.5,0.01],[0.25,0.1],[0.6,0.05],[1,0.03],[1.5,0.02]
];

const nitrateTempMax = [
[0.1,18.5],[0.4,19.3],[0.1,20.1],[0.4,20.9],[0.1,21.7],[0.4,22.5],[0.1,23.3],[0.4,24.1],[0.1,24.9],[0.4,25.7],[0.1,26.5],[0.4,27.3],[0.1,28.1],[0.4,28.9],[0.1,29.7],[0.4,30.5],[0.1,31.3],[0.4,32.1],[0.1,32.9],[0.4,33.7],[0.1,34.5],[0.4,35.3],[0.1,36.1],[0.3,36.8],
[0.5,29],[1,28.6],[1.5,29.2],[2,28.8],[2.5,29],[3,28.6],[3.5,29.1],[4,28.8],[4.5,29],[5,28.7],[5.5,29.1],[6,28.8],[6.5,29],[7,28.7],
[0.5,25.5],[1,24],[1.5,25],[2,23.5],[2.5,24.5],[3,22.5],[3.5,23.8],[4,22],[4.5,23],[5,21.3],[5.5,22.3],[6,20.8],[6.5,21.7],[7,20.2],[7.5,21],[8,19.5],[8.5,20.2],[9,18.7],[9.5,19.5],[10,18],[10.5,18.8],[11,17.3],[11.5,18],[12,16.6],[12.5,17.4],[13,16],[13.5,16.8],[14,15.4],[14.5,16.2],[15,14.9],[15.5,15.5],[16,14.3],[16.5,15],[17,13.8],[17.5,14.4],[18,13.2],[18.5,13.9],[19,12.7],[19.5,13.3],[20,12.2],[20.5,12.8],[21,11.7],[21.5,12.3],[22,11.2],[22.5,11.7],[23,10.7],[23.5,11.2],[24,10.2],[24.5,10.7],[25,9.6],[25.5,10],[26,9],[26.5,9.3],[27,8.2],[27.4,7.8],
[0.3,21],[0.8,22.5],[1.2,26],[2.2,26.5],[3.2,25.5],[1.8,21],[2.8,20.5],[0.5,27.5],[1,27],[1.5,23.2],[2.5,22.4],[3.5,21.6],[4.5,21.1],[0.8,24.6],[1.8,25.3],[2.8,24.3]
];

const nitrateTempMin = [
[0.1,13],[0.4,13.6],[0.1,14.2],[0.4,14.8],[0.1,15.4],[0.4,16],[0.1,16.6],[0.4,17.2],[0.1,17.8],[0.4,18.4],[0.1,19],[0.4,19.6],[0.1,20.2],[0.4,20.8],[0.1,21.4],[0.4,22],[0.1,22.6],[0.4,23.2],[0.1,23.8],[0.4,24.4],[0.1,25],[0.4,25.6],[0.1,26.2],[0.4,26.8],[0.1,27.4],[0.4,28],
[0.5,28],[1,27.6],[1.5,28.2],[2,27.8],[2.5,28.1],[3,27.7],[3.5,28.2],[4,27.8],[4.5,28],[5,27.7],[5.5,28.1],[6,27.8],[6.5,28],[7,27.7],
[0.5,20],[1,18],[1.5,16],[2,19],[2.5,15],[3,17.5],[3.5,14],[4,18.5],[0.8,14.5],[1.2,21],[2.2,13.5],[3.2,20],[4.5,16],[0.5,16.5],[1.8,22],[1,15.5],[2,17],[3,15.8],[4,17.2],[1.5,19.6],[2.7,19.1],
[5,17.8],[5.5,17],[6,17.4],[6.5,16.7],[7,17],[7.5,16.3],[8,16.5],[8.5,15.9],[9,16],[9.5,15.5],[10,15.4],[10.5,15],[11,15],[11.5,14.5],[12,14.5],[12.5,14],[13,14],[13.5,13.5],[14,13.5],[14.5,13.1],[15,13],[15.5,12.6],[16,12.5],[16.5,12.1],[17,12],[17.5,11.6],[18,11.5],[18.5,11.1],[19,11],[19.5,10.6],[20,10.5],[20.5,10.1],[21,10],[21.5,9.6],[22,9.4],[22.5,9.1],[23,8.9],[23.5,8.6],[24,8.4],[24.5,8.1],[25,7.9],[25.5,7.6],[26,7.3],[26.5,7],[27,6.8],[27.4,6.6]
];

const phosphateTempMax = [
[0.02,36.5],[0.02,34.8],[0.02,33.1],[0.02,31.5],[0.01,35.6],[0.03,33.9],[0.01,32.3],
[0.05,30.8],[0.05,28.2],[0.05,26.8],[0.1,30.4],[0.1,28.6],[0.1,26.4],[0.15,29.7],[0.15,27.8],[0.15,25.8],[0.2,29.1],[0.2,27.2],[0.2,25.2],[0.25,28.4],[0.25,26.5],[0.25,24.6],[0.3,27.7],[0.3,25.9],[0.3,24],[0.35,27],[0.35,25.2],[0.35,23.4],[0.4,26.3],[0.4,24.5],[0.4,22.8],[0.45,25.6],[0.45,23.8],[0.45,22.2],[0.5,24.9],[0.5,23.1],[0.5,21.5],[0.55,24.3],[0.55,22.6],[0.55,21],[0.6,23.6],[0.6,22],[0.6,20.5],[0.65,23],[0.65,21.4],[0.65,20],[0.7,22.4],[0.7,20.8],[0.7,19.5],[0.75,21.8],[0.75,20.3],[0.75,19],[0.8,21.2],[0.8,19.8],[0.8,18.5],[0.85,20.6],[0.85,19.2],[0.85,18],[0.9,19.9],[0.9,18.6],[0.9,17.4],[0.95,19.2],[0.95,18],[0.95,16.9],[1.0,18.5],[1.0,17.3],[1.0,16.3],[1.05,17.8],[1.05,16.7],[1.05,15.7],[1.1,17.1],[1.1,16.1],[1.1,15.1],[1.15,16.4],[1.15,15.5],[1.15,14.6],[1.2,15.8],[1.2,15],[1.2,14.1],[1.25,15.2],[1.25,14.4],[1.25,13.6],[1.3,14.6],[1.3,13.9],[1.3,13.1],[1.35,14],[1.35,13.4],[1.35,12.6],[1.4,13.5],[1.4,12.9],[1.4,12.1],[1.45,12.9],[1.45,12.4],[1.45,11.6],[1.5,12.3],[1.5,11.8],[1.5,11.2],[1.55,11.7],[1.55,11.3],[1.55,10.7],[1.6,11.1],[1.6,10.7],[1.6,10.2],[1.65,10.5],[1.65,10.1],[1.65,9.6],[1.7,9.9],[1.7,9.5],[1.7,9.1],[1.75,9.2],[1.75,8.8],[1.8,8.6],[1.8,8.2],[1.85,7.9],[1.85,7.6],
[0.05,29.5],[0.05,27.5],[0.1,29.5],[0.1,27.5],[0.15,28.75],[0.15,26.8],[0.2,28.15],[0.2,26.2],[0.25,27.45],[0.25,25.55],[0.3,26.8],[0.3,24.95],[0.35,26.1],[0.35,24.3],[0.4,25.4],[0.4,23.65],[0.45,24.7],[0.45,23],[0.5,24],[0.5,22.3],[0.55,23.45],[0.55,21.8],[0.6,22.8],[0.6,21.25],[0.65,22.2],[0.65,20.7],[0.7,21.6],[0.7,20.15],[0.75,21.05],[0.75,19.65],[0.8,20.5],[0.8,19.15],[0.85,19.9],[0.85,18.6],[0.9,19.25],[0.9,18],[0.95,18.6],[0.95,17.45],[1.0,17.9],[1.0,16.8],[1.05,17.25],[1.05,16.2],[1.1,16.6],[1.1,15.6],[1.15,15.95],[1.15,15.05],[1.2,15.4],[1.2,14.55]
];

const phosphateTempMin = [
[0.0,27.8],[0.02,27.2],[0.04,26.5],[0.01,26],[0.06,25.8],[0.03,25],
[0.05,24.6],[0.1,24],[0.15,23.6],[0.2,23],[0.25,22.6],[0.3,22],[0.35,21.6],[0.4,21],[0.45,20.6],[0.5,20],[0.55,19.6],[0.6,19],[0.65,18.6],[0.7,18],[0.75,17.6],[0.8,17],[0.85,16.6],[0.9,16],[0.95,15.6],[1.0,15],[1.05,14.6],[1.1,14],[1.15,13.6],[1.2,13],[1.25,12.6],[1.3,12],[1.35,11.6],[1.4,11],[1.45,10.6],[1.5,10],[1.55,9.6],[1.6,9],[1.65,8.6],[1.7,8],[1.75,7.6],[1.8,7],[1.85,6.6],
[0.12,24.6],[0.32,22.6],[0.52,20.6],[0.72,18.6],[0.92,16.6],[1.12,14.6],[1.32,12.6],[1.52,10.6],[1.72,8.6],
[0.07,24.6],[0.17,23.8],[0.27,22.9],[0.37,21.9],[0.47,20.9],[0.57,19.9],[0.67,18.9],[0.77,17.9],[0.87,16.9],[0.97,15.9],[1.07,14.9],[1.17,13.9],[1.27,12.9],[1.37,11.9],[1.47,10.9],[1.57,9.9],[1.67,8.9],[1.77,7.9],
[0.05,21],[0.08,19],[0.1,17],[0.12,15],[0.15,13.5],[0.2,13],[0.25,12.8],[0.3,13.2],[0.35,14],[0.4,15],[0.45,16.5],[0.5,18],[0.55,18.5],[0.15,20],[0.2,18.5],[0.25,17],[0.3,16],[0.35,17.5],[0.4,19],[0.1,22],[0.2,15.5],[0.28,14.5],[0.45,14],[0.5,15.5],[0.38,12.8],
[0.07,20],[0.09,18],[0.11,16],[0.13,14.2],[0.17,13.2],[0.22,12.9],[0.27,13],[0.33,13.6],[0.37,14.5],[0.42,15.7],[0.47,17.2],[0.52,18.3],[0.17,19.2],[0.22,17.7],[0.27,16.5],[0.32,16.7],[0.37,18.2],[0.42,19.6],[0.12,21],[0.25,14.5],[0.33,15],[0.4,13.8],[0.48,14.8]
];

const tempMaxTempMin = [
[7.5,6.6],[8,7.2],[8.5,7.6],[9,8],[9.5,8.6],[10,9],[10.5,9.5],[11,10],[11.5,10.4],[12,11],[12.5,11.4],[13,12],[13.5,12.3],[14,12.9],[14.5,13.4],[15,13.8],[15.5,14.3],[16,14.8],[16.5,15.2],[17,15.7],[17.5,16.2],[18,16.7],[18.5,17.1],[19,17.6],[19.5,18.1],[20,18.5],[20.5,19],[21,19.5],[21.5,19.9],[22,20.4],[22.5,20.9],[23,21.4],[23.5,21.8],[24,22.3],[24.5,22.8],[25,23.3],[25.5,23.7],[26,24.2],[26.5,24.7],[27,25.2],[27.5,25.6],[28,26.1],[28.5,26.6],[29,27],[29.5,27.5],[30,27.8],[31,28],[32,28.1],[33,28.2],[34,28.3],[35,28.4],[36,28.5],
[10,9.6],[12,11.6],[14,13.5],[16,15.4],[18,17.3],[20,19.1],[22,21],[24,22.9],[26,24.8],[28,26.7],
[9,8.6],[11,10.6],[13,12.5],[15,14.4],[17,16.3],[19,18.2],[21,20.1],[23,22],[25,23.9],[27,25.8],[29,27.6],[30.5,28.3],[31.5,28.4],[33.5,28.6],
[20,13],[21,12.5],[22,13],[23,12.6],[24,13.2],[25,12.8],[26,13.5],[27,14],[28,15],[28.5,16.5],[28,18],[27,19.5],[26,20],[25,19],[24,17.5],[23,16],[22,14.5],[21,14],[24,15],[26,16],[27,17],[25,14.5],[22,17],[23,18.5],[20.5,15],[28.5,20],[29,22],[29,24],
[20.5,13.5],[21.5,13.2],[22.5,13.8],[23.5,13.5],[24.5,14],[25.5,13.6],[26.5,14.6],[27.5,15.2],[27.8,16.5],[27.5,18.5],[26.5,19],[25.5,18],[24.5,16.5],[23.5,15.2],[22.5,15.8],[21.5,15.3],[25,17],[26,18.3],[27,15.8],[28.5,19],[28.8,21],[28.9,23],[23.5,17.2],[24.5,18.7]
];

// Lower-panel lookup: key "row,col" -> observations (x from column variable, y from row variable)
const scatterSets = {
  "1,0": currentsLight,
  "2,0": currentsNitrate, "2,1": lightNitrate,
  "3,0": currentsPhosphate, "3,1": lightPhosphate, "3,2": nitratePhosphate,
  "4,0": currentsTempMax, "4,1": lightTempMax, "4,2": nitrateTempMax, "4,3": phosphateTempMax,
  "5,0": currentsTempMin, "5,1": lightTempMin, "5,2": nitrateTempMin, "5,3": phosphateTempMin, "5,4": tempMaxTempMin
};

// ---- Layout ----
const originX = 25, originY = 23, stepX = 145.4, stepY = 142.6;
const panelW = 137, panelH = 133;
const FONT = "'Liberation Sans', Arial, Helvetica, sans-serif";

const padded = r => { const p = (r[1] - r[0]) * 0.04; return [r[0] - p, r[1] + p]; };
const xScales = dataRanges.map(r => d3.scaleLinear().domain(padded(r)).range([0, panelW]));
const yScales = dataRanges.map(r => d3.scaleLinear().domain(padded(r)).range([panelH, 0]));
const histY = d3.scaleLinear().domain([0, 1.5]).range([panelH, 0]);

const svg = d3.select("#chart");
svg.append("rect").attr("width", 915).attr("height", 890).attr("fill", "#fff");
svg.append("defs").append("clipPath").attr("id", "panel-clip")
  .append("rect").attr("width", panelW).attr("height", panelH);

const n = variables.length;
for (let i = 0; i < n; i++) {
  for (let j = 0; j < n; j++) {
    const px = Math.round(originX + j * stepX);
    const py = Math.round(originY + i * stepY);
    const g = svg.append("g").attr("transform", `translate(${px},${py})`);
    const inner = g.append("g").attr("clip-path", "url(#panel-clip)");

    if (i === j) {
      // histogram of the variable
      const x = xScales[i];
      const bins = histograms[i].map((h, k) => ({
        x0: histStart[i] + k * histWidth[i],
        x1: histStart[i] + (k + 1) * histWidth[i],
        h
      }));
      inner.selectAll("rect.bar").data(bins).join("rect")
        .attr("class", "bar")
        .attr("x", d => x(d.x0))
        .attr("width", d => x(d.x1) - x(d.x0))
        .attr("y", d => histY(d.h))
        .attr("height", d => histY(0) - histY(d.h))
        .attr("fill", "#00ff00")
        .attr("stroke", "#000")
        .attr("stroke-width", 1);
      g.append("text")
        .attr("x", panelW / 2).attr("y", 23)
        .attr("text-anchor", "middle").attr("dominant-baseline", "central")
        .attr("font-family", FONT).attr("font-size", 15).attr("fill", "#000")
        .text(variables[i]);
    } else if (i > j) {
      const pts = scatterSets[`${i},${j}`];
      const x = xScales[j], y = yScales[i];
      inner.selectAll("circle").data(pts).join("circle")
        .attr("cx", d => x(d[0]))
        .attr("cy", d => y(d[1]))
        .attr("r", 1.7)
        .attr("fill", "#000");
    } else {
      const idx = correlations.findIndex(c => c[0] === i && c[1] === j);
      g.append("text")
        .attr("x", panelW / 2).attr("y", panelH / 2)
        .attr("text-anchor", "middle").attr("dominant-baseline", "central")
        .attr("font-family", FONT).attr("font-size", corrFontPx[idx]).attr("fill", "#000")
        .text(correlations[idx][2]);
    }

    g.append("rect")
      .attr("x", 0.5).attr("y", 0.5)
      .attr("width", panelW - 1).attr("height", panelH - 1)
      .attr("fill", "none").attr("stroke", "#000").attr("stroke-width", 1);

    // outer axes, alternating sides as in a scatterplot matrix
    if (i === 0 && j % 2 === 1) drawAxis(g, "top", j);
    if (i === n - 1 && j % 2 === 0) drawAxis(g, "bottom", j);
    if (j === 0 && i % 2 === 1) drawAxis(g, "left", i);
    if (j === n - 1 && i % 2 === 0) drawAxis(g, "right", i);
  }
}

function drawAxis(g, side, v) {
  const ticks = tickValues[v];
  const fmt = d3.format(tickFormats[v]);
  let axis, transform = "";
  if (side === "top") axis = d3.axisTop(xScales[v]);
  if (side === "bottom") { axis = d3.axisBottom(xScales[v]); transform = `translate(0,${panelH})`; }
  if (side === "left") axis = d3.axisLeft(yScales[v]);
  if (side === "right") { axis = d3.axisRight(yScales[v]); transform = `translate(${panelW},0)`; }
  axis.tickValues(ticks).tickFormat(fmt).tickSize(5).tickSizeOuter(0);

  const ag = g.append("g").attr("transform", transform).call(axis);
  ag.attr("font-family", FONT).attr("font-size", 8).attr("color", "#000");
  ag.select(".domain").remove();
  ag.selectAll(".tick line").attr("stroke", "#000");

  const s = (side === "top" || side === "bottom") ? xScales[v] : yScales[v];
  const a = s(ticks[0]), b = s(ticks[ticks.length - 1]);
  if (side === "top" || side === "bottom") {
    ag.append("line").attr("x1", a).attr("x2", b).attr("y1", 0).attr("y2", 0).attr("stroke", "#000");
    ag.selectAll(".tick text")
      .attr("y", side === "top" ? -13 : 13.5).attr("dy", "0.35em")
      .attr("fill", "#333");
  } else {
    ag.append("line").attr("y1", a).attr("y2", b).attr("x1", 0).attr("x2", 0).attr("stroke", "#000");
    const off = side === "left" ? -13 : 13;
    ag.selectAll(".tick text")
      .attr("x", 0).attr("y", 0).attr("dy", "0.35em")
      .attr("text-anchor", "middle")
      .attr("transform", `translate(${off},0) rotate(-90)`)
      .attr("fill", "#333");
  }
}
</script>
</body>
</html>
